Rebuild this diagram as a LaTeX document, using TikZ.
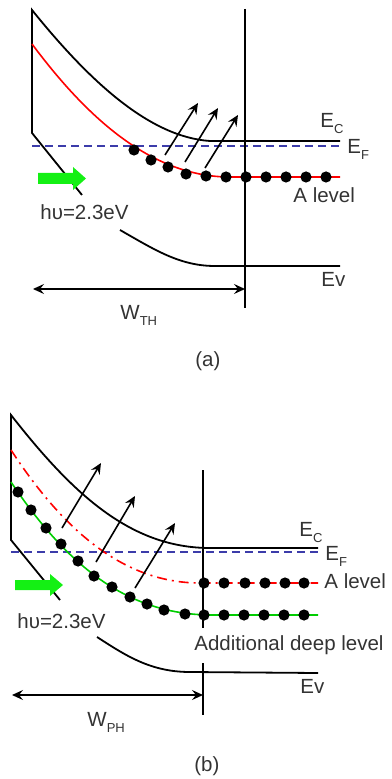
\documentclass[tikz,border=0pt]{standalone}
\usepackage{fontspec}
\setmainfont{Liberation Sans}
\usetikzlibrary{arrows.meta}
\definecolor{txt}{HTML}{333333}
\definecolor{efblue}{RGB}{60,60,170}
\definecolor{photongreen}{RGB}{20,240,20}
\definecolor{deepgreen}{RGB}{0,205,0}
\newcommand{\sbs}[2]{#1\raisebox{-3pt}{\fontsize{6.5}{7}\selectfont #2}}
\begin{document}
\begin{tikzpicture}[x=0.5pt,y=-0.5pt,
  band/.style={draw=black, line width=0.9pt},
  fermi/.style={draw=efblue, dash pattern=on 4pt off 2.5pt, line width=0.8pt},
  alev/.style={draw=red, line width=0.8pt},
  alevdd/.style={draw=red, line width=0.8pt, dash pattern=on 5pt off 2.5pt on 1pt off 2.5pt},
  deep/.style={draw=deepgreen, line width=0.8pt},
  dot/.style={circle, fill=black, inner sep=0pt, minimum size=5.6pt},
  exc/.style={-{Stealth[length=5.5pt,width=5pt,inset=2pt]}, line width=0.8pt},
  dimarrow/.style={{Stealth[length=5.5pt,width=5pt,inset=2pt]}-{Stealth[length=5.5pt,width=5pt,inset=2pt]}, line width=0.8pt},
  lbl/.style={anchor=base west, inner sep=0pt, text=txt, font=\fontsize{10.25}{12}\selectfont},
  photon/.style={fill=photongreen, draw=none}]
\path[use as bounding box] (0,0) rectangle (391,779);

% ================= panel (a) =================
\draw[band] (82,195) -- (32,133) -- (32,10) .. controls (90,82) and (150,137) .. (210,141) -- (340,141);
\draw[band] (120,230) .. controls (155,250) and (180,266) .. (215,266) -- (340,266);
\draw[fermi] (32,146) -- (340,146);
\draw[alev] (32,44) .. controls (85,115) and (150,177) .. (230,177) -- (340,177);
\coordinate (aTop) at (245,9);
\coordinate (aBot) at (245,308);
\draw[band] (aTop) -- (aBot);
\foreach \x/\y [count=\i] in {134/150,151/160,168/167,186/174,206/176,226/177,246/177,266/177,286/177,306/177,326/177}
  \node[dot] (ad\i) at (\x,\y) {};
\coordinate (ae1s) at (165,155); \coordinate (ae1e) at (198,103);
\coordinate (ae2s) at (185,162); \coordinate (ae2e) at (218,108);
\coordinate (ae3s) at (205,168); \coordinate (ae3e) at (238,115);
\draw[exc] (ae1s) -- (ae1e);
\draw[exc] (ae2s) -- (ae2e);
\draw[exc] (ae3s) -- (ae3e);
\fill[photon] (38,173) -- (73,173) -- (73,167) -- (86,178.5) -- (73,190) -- (73,184) -- (38,184) -- cycle;
\coordinate (aWl) at (33,289);
\coordinate (aWr) at (245,289);
\draw[dimarrow] (aWl) -- (aWr);
\node[lbl] (aEC) at (320,128) {\sbs{E}{C}};
\node[lbl] (aEF) at (347,154) {\sbs{E}{F}};
\node[lbl] (aAl) at (293,203) {A level};
\node[lbl] (aEv) at (321,287) {Ev};
\node[lbl] (aHv) at (40,220) {hυ=2.3eV};
\node[lbl] (aW) at (120,320) {\sbs{W}{TH}};
\node[lbl] (aCap) at (195,367) {(a)};

% ================= panel (b) =================
\draw[band] (60,600) -- (11,540) -- (11,415) .. controls (72,493) and (130,548) .. (210,548) -- (318,548);
\draw[band] (97,637) .. controls (125,655) and (150,672) .. (190,672) -- (318,673);
\draw[fermi] (11,552) -- (318,552);
\draw[alevdd] (11,450) .. controls (60,525) and (120,583) .. (200,583) -- (318,583);
\draw[deep] (11,482) .. controls (70,570) and (130,614) .. (210,615) -- (318,615);
\coordinate (bTop) at (203,470);
\coordinate (bMid1) at (203,628);
\coordinate (bMid2) at (203,663);
\coordinate (bBot) at (203,715);
\draw[band] (bTop) -- (bMid1);
\draw[band] (bMid2) -- (bBot);
\foreach \x/\y [count=\i] in {204/583,224/583,245/583,265/583,285/583,304/583}
  \node[dot] (bd\i) at (\x,\y) {};
\foreach \x/\y [count=\i] in {18/492,31/510,46/528,61/544,78/561,94/576,112/587,130/597,147/604,164/610,185/614,204/615,224/615,244/615,264/615,284/615,304/615}
  \node[dot] (bg\i) at (\x,\y) {};
\coordinate (be1s) at (62,528); \coordinate (be1e) at (101,463);
\coordinate (be2s) at (96,562); \coordinate (be2e) at (135,496);
\coordinate (be3s) at (135,588); \coordinate (be3e) at (175,523);
\draw[exc] (be1s) -- (be1e);
\draw[exc] (be2s) -- (be2e);
\draw[exc] (be3s) -- (be3e);
\fill[photon] (15,580) -- (50,580) -- (50,574) -- (63,585) -- (50,596) -- (50,590) -- (15,590) -- cycle;
\coordinate (bWl) at (12,695);
\coordinate (bWr) at (203,695);
\draw[dimarrow] (bWl) -- (bWr);
\node[lbl] (bEC) at (299,536) {\sbs{E}{C}};
\node[lbl] (bEF) at (325,560) {\sbs{E}{F}};
\node[lbl] (bAl) at (324,588) {A level};
\node[lbl] (bDl) at (194,650) {Additional deep level};
\node[lbl] (bEv) at (300,693) {Ev};
\node[lbl] (bHv) at (17,628) {hυ=2.3eV};
\node[lbl] (bW) at (87,726) {\sbs{W}{PH}};
\node[lbl] (bCap) at (194,771) {(b)};
\end{tikzpicture}
\end{document}
